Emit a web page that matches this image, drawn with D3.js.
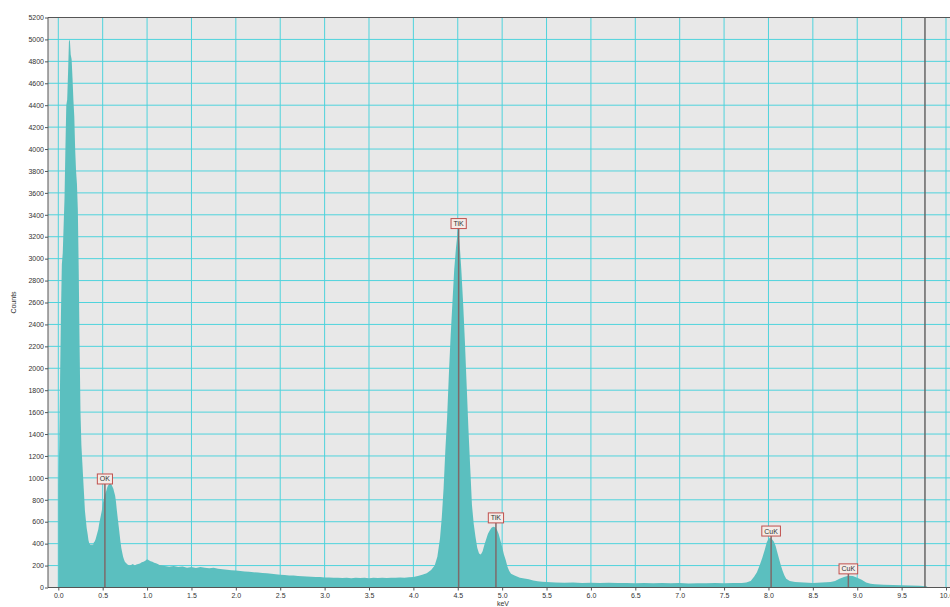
<!DOCTYPE html>
<html>
<head>
<meta charset="utf-8">
<script src="https://cdn.jsdelivr.net/npm/d3@7/dist/d3.min.js"></script>
<style>
  body { margin: 0; background: #fff; }
  svg { display: block; font-family: "Liberation Sans", Arial, sans-serif; }
</style>
</head>
<body>
<div id="chart"></div>
<script>
// EDS spectrum: [keV, counts]
const spectrum = [
  [0.00, 930], [0.01, 1280], [0.02, 1900], [0.03, 2500], [0.04, 2950], [0.05, 3050],
  [0.06, 3300], [0.07, 3550], [0.08, 4000], [0.09, 4400], [0.10, 4450], [0.11, 4700],
  [0.12, 4980], [0.13, 5000], [0.14, 4860], [0.15, 4820], [0.16, 4650], [0.17, 4450],
  [0.18, 4300], [0.19, 4000], [0.20, 3800], [0.21, 3680], [0.22, 3450], [0.23, 2900],
  [0.24, 2200], [0.25, 1600], [0.26, 1300], [0.27, 1150], [0.28, 1000], [0.29, 850],
  [0.30, 700], [0.31, 620], [0.32, 540], [0.33, 490], [0.34, 430], [0.35, 400],
  [0.36, 395], [0.37, 385], [0.38, 400], [0.39, 385], [0.40, 410], [0.41, 420],
  [0.42, 440], [0.43, 470], [0.44, 500], [0.45, 530], [0.46, 580], [0.47, 620],
  [0.48, 660], [0.49, 700], [0.50, 760], [0.51, 800], [0.52, 830], [0.53, 860],
  [0.54, 880], [0.55, 910], [0.56, 930], [0.57, 940], [0.58, 955], [0.59, 945],
  [0.60, 940], [0.61, 920], [0.62, 900], [0.63, 870], [0.64, 840], [0.65, 780],
  [0.66, 700], [0.67, 630], [0.68, 560], [0.69, 490], [0.70, 420], [0.71, 360],
  [0.72, 320], [0.73, 280], [0.74, 255], [0.75, 235], [0.76, 225], [0.78, 210],
  [0.80, 200], [0.82, 205], [0.84, 215], [0.86, 200], [0.88, 210], [0.90, 215],
  [0.92, 220], [0.94, 230], [0.96, 235], [0.98, 245], [1.00, 258], [1.02, 248],
  [1.04, 240], [1.06, 236], [1.08, 226], [1.10, 222], [1.12, 214], [1.14, 206],
  [1.16, 202], [1.20, 196], [1.25, 190], [1.30, 197], [1.35, 186], [1.40, 192],
  [1.45, 181], [1.50, 188], [1.55, 178], [1.60, 186], [1.65, 180], [1.70, 176],
  [1.75, 180], [1.80, 170], [1.85, 166], [1.90, 162], [1.95, 158], [2.00, 156],
  [2.05, 150], [2.10, 146], [2.15, 143], [2.20, 140], [2.25, 136], [2.30, 133],
  [2.35, 131], [2.40, 126], [2.45, 121], [2.50, 116], [2.55, 114], [2.60, 110],
  [2.65, 109], [2.70, 105], [2.75, 103], [2.80, 100], [2.85, 99], [2.90, 96],
  [2.95, 95], [3.00, 92], [3.05, 91], [3.10, 88], [3.15, 90], [3.20, 86],
  [3.25, 89], [3.30, 85], [3.35, 88], [3.40, 86], [3.45, 90], [3.50, 85],
  [3.55, 88], [3.60, 86], [3.65, 89], [3.70, 87], [3.75, 90], [3.80, 88],
  [3.85, 92], [3.90, 90], [3.95, 94], [4.00, 96], [4.05, 105], [4.10, 116],
  [4.15, 130], [4.20, 160], [4.24, 200], [4.27, 280], [4.30, 450], [4.32, 640],
  [4.34, 900], [4.36, 1250], [4.38, 1550], [4.40, 1950], [4.42, 2300], [4.44, 2600],
  [4.46, 2900], [4.48, 3100], [4.50, 3250], [4.51, 3230], [4.52, 3150], [4.54, 2900],
  [4.56, 2600], [4.58, 2250], [4.60, 1850], [4.62, 1450], [4.64, 1100], [4.66, 750],
  [4.68, 580], [4.70, 460], [4.72, 360], [4.74, 310], [4.76, 300], [4.78, 330],
  [4.80, 390], [4.82, 440], [4.84, 490], [4.86, 520], [4.88, 545], [4.90, 555],
  [4.92, 550], [4.94, 530], [4.96, 490], [4.98, 430], [5.00, 370], [5.02, 300],
  [5.04, 250], [5.06, 190], [5.08, 150], [5.10, 125], [5.14, 110], [5.20, 90],
  [5.25, 82], [5.30, 75], [5.35, 64], [5.40, 56], [5.45, 52], [5.50, 50],
  [5.60, 46], [5.70, 44], [5.80, 46], [5.90, 42], [6.00, 44], [6.10, 41],
  [6.20, 43], [6.30, 40], [6.40, 42], [6.50, 39], [6.60, 41], [6.70, 38],
  [6.80, 40], [6.90, 38], [7.00, 40], [7.10, 37], [7.20, 39], [7.30, 38],
  [7.40, 40], [7.50, 38], [7.60, 41], [7.70, 42], [7.75, 45], [7.80, 60],
  [7.84, 100], [7.87, 140], [7.90, 200], [7.93, 270], [7.96, 350], [7.98, 410],
  [8.00, 445], [8.02, 455], [8.04, 440], [8.06, 420], [8.08, 380], [8.10, 320],
  [8.12, 260], [8.14, 200], [8.16, 150], [8.18, 110], [8.20, 80], [8.24, 60],
  [8.30, 50], [8.40, 45], [8.50, 42], [8.60, 45], [8.70, 50], [8.75, 60],
  [8.80, 80], [8.85, 95], [8.90, 108], [8.95, 105], [9.00, 90], [9.05, 70],
  [9.10, 45], [9.15, 35], [9.20, 30], [9.30, 25], [9.40, 22], [9.50, 20],
  [9.60, 18], [9.70, 15], [9.78, 12], [9.80, 0]
];

// peak markers: energy, label text, label height in counts
const peakEnergies = [0.525, 4.51, 4.93, 8.03, 8.90];
const peakNames = ["OK", "TiK", "TiK", "CuK", "CuK"];
const peakLabelCounts = [990, 3320, 635, 515, 170];

const xTicks = d3.range(0, 10.01, 0.5);
const yTicks = d3.range(0, 5201, 200);
const markerEnergy = 9.763;

const width = 950, height = 607;
const margin = {top: 17.5, right: 0, bottom: 19.5, left: 48};

const x = d3.scaleLinear().domain([0, 10]).range([58.3, 946]);
const y = d3.scaleLinear().domain([0, 5200]).range([height - margin.bottom, margin.top]);

const svg = d3.select("#chart").append("svg")
    .attr("width", width)
    .attr("height", height);

// plot background
svg.append("rect")
    .attr("x", margin.left)
    .attr("y", margin.top)
    .attr("width", width - margin.left)
    .attr("height", y(0) - margin.top)
    .attr("fill", "#e8e8e8");

// grid
const grid = svg.append("g")
    .attr("stroke", "#4fd3dc")
    .attr("stroke-width", 1);

grid.selectAll(".gx")
    .data(xTicks)
    .join("line")
    .attr("x1", d => x(d)).attr("x2", d => x(d))
    .attr("y1", margin.top).attr("y2", y(0));

grid.selectAll(".gy")
    .data(yTicks.slice(1, -1))
    .join("line")
    .attr("x1", margin.left).attr("x2", width)
    .attr("y1", d => y(d)).attr("y2", d => y(d));

// spectrum fill
const area = d3.area()
    .x(d => x(d[0]))
    .y0(y(0))
    .y1(d => y(d[1]));

svg.append("path")
    .datum(spectrum)
    .attr("fill", "#5bbfbf")
    .attr("d", area);

// top border and marker line
svg.append("line")
    .attr("x1", margin.left).attr("x2", width)
    .attr("y1", margin.top).attr("y2", margin.top)
    .attr("stroke", "#555").attr("stroke-width", 1.2);

svg.append("line")
    .attr("x1", x(markerEnergy)).attr("x2", x(markerEnergy))
    .attr("y1", margin.top).attr("y2", y(0))
    .attr("stroke", "#666").attr("stroke-width", 1.5);

// peak labels
const peaks = peakEnergies.map((e, i) => ({e, name: peakNames[i], c: peakLabelCounts[i]}));

const pk = svg.append("g").selectAll("g")
    .data(peaks)
    .join("g");

pk.append("line")
    .attr("x1", d => x(d.e)).attr("x2", d => x(d.e))
    .attr("y1", d => y(d.c) + 5).attr("y2", y(0))
    .attr("stroke", "#7d6a6a")
    .attr("stroke-width", 1.5);

const boxes = pk.append("rect")
    .attr("fill", "#f4ece8")
    .attr("stroke", "#c0504d")
    .attr("stroke-width", 1);

pk.append("text")
    .attr("x", d => x(d.e))
    .attr("y", d => y(d.c) + 2.5)
    .attr("text-anchor", "middle")
    .attr("font-size", 7)
    .attr("fill", "#333")
    .text(d => d.name)
    .each(function(d) { d.tw = this.getComputedTextLength(); });

boxes
    .attr("x", d => x(d.e) - d.tw / 2 - 2.5)
    .attr("y", d => y(d.c) - 5)
    .attr("width", d => d.tw + 5)
    .attr("height", 10);

// axes
const xAxis = svg.append("g")
    .attr("transform", `translate(0,${y(0)})`)
    .call(d3.axisBottom(x).tickValues(xTicks).tickFormat(d3.format(".1f")).tickSize(3));
xAxis.select(".domain").attr("d", `M${margin.left},0H${width}`).attr("stroke", "#555");
xAxis.selectAll("line").attr("stroke", "#555");
xAxis.selectAll("text").attr("font-size", 7).attr("fill", "#333").attr("dy", "0.6em")
    .attr("font-family", "Liberation Sans, Arial, sans-serif");

const yAxis = svg.append("g")
    .attr("transform", `translate(${margin.left},0)`)
    .call(d3.axisLeft(y).tickValues(yTicks).tickFormat(d3.format("d")).tickSize(3));
yAxis.select(".domain").attr("d", `M0,${margin.top}V${y(0)}`).attr("stroke", "#555");
yAxis.selectAll("line").attr("stroke", "#555");
yAxis.selectAll("text").attr("font-size", 7).attr("fill", "#333").attr("x", -4)
    .attr("font-family", "Liberation Sans, Arial, sans-serif");

svg.append("text")
    .attr("x", 503).attr("y", 606)
    .attr("text-anchor", "middle")
    .attr("font-size", 7)
    .attr("fill", "#333")
    .text("keV");

svg.append("text")
    .attr("transform", `translate(16,${(margin.top + y(0)) / 2}) rotate(-90)`)
    .attr("text-anchor", "middle")
    .attr("font-size", 7)
    .attr("fill", "#333")
    .text("Counts");
</script>
</body>
</html>
